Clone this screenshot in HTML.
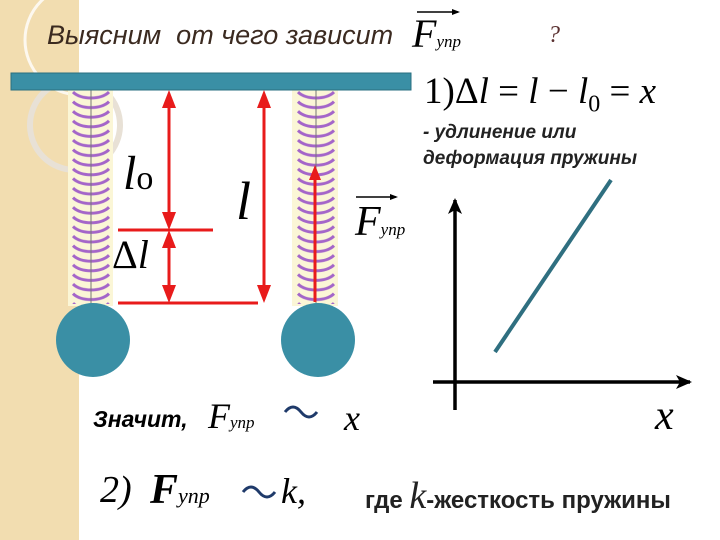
<!DOCTYPE html>
<html><head><meta charset="utf-8"><style>
html,body{margin:0;padding:0;background:#fff}
.w{position:relative;width:720px;height:540px;overflow:hidden;font-family:"Liberation Sans",sans-serif}
.t{position:absolute;white-space:nowrap}
.m{font-family:"Liberation Serif",serif;font-style:italic}
</style></head><body><div class="w">
<svg width="720" height="540" style="position:absolute;left:0;top:0">
<defs>
<pattern id="coil1" x="69" y="90" width="44" height="9.6" patternUnits="userSpaceOnUse">
<path d="M4,2 C12,10 32,10 40,2" stroke="#9a55c8" stroke-width="3" fill="none"/>
</pattern>
<pattern id="coil2" x="294" y="90" width="44" height="9.6" patternUnits="userSpaceOnUse">
<path d="M4,2 C12,10 32,10 40,2" stroke="#9a55c8" stroke-width="3" fill="none"/>
</pattern>
<marker id="ab" markerWidth="16" markerHeight="14" refX="14" refY="7" orient="auto" markerUnits="userSpaceOnUse"><path d="M0,0 L16,7 L0,14 L4,7 z" fill="#000"/></marker>
</defs>
<rect x="0" y="0" width="79" height="540" fill="#f2ddb0"/>
<circle cx="80" cy="40" r="55" fill="none" stroke="#fff" stroke-width="3" opacity="0.8"/>
<circle cx="75" cy="125" r="45" fill="none" stroke="#e8e1d6" stroke-width="6"/>
<rect x="68" y="88" width="45" height="218" fill="#fbf6d6"/>
<rect x="292" y="88" width="46" height="218" fill="#fbf6d6"/>
<rect x="69" y="90" width="44" height="214" fill="url(#coil1)" opacity="0.9"/>
<rect x="294" y="90" width="44" height="214" fill="url(#coil2)" opacity="0.9"/>
<line x1="91" y1="90" x2="91" y2="304" stroke="#777" stroke-width="1"/>
<line x1="316" y1="90" x2="316" y2="304" stroke="#777" stroke-width="1"/>
<rect x="11" y="73" width="400" height="17" fill="#3a8fa5" stroke="#2a6f80" stroke-width="1"/>
<ellipse cx="93" cy="340" rx="37" ry="37" fill="#3a8fa5"/>
<ellipse cx="318" cy="340" rx="37" ry="37" fill="#3a8fa5"/>
<g stroke="#e81b1b" stroke-width="3">
<line x1="118" y1="230" x2="213" y2="230"/>
<line x1="118" y1="303" x2="258" y2="303"/>
<line x1="169" y1="100" x2="169" y2="222"/>
<line x1="169" y1="238" x2="169" y2="295"/>
<line x1="264" y1="100" x2="264" y2="292"/>
<line x1="315" y1="302" x2="315" y2="175"/>
</g>
<g fill="#e81b1b">
<path d="M169,90 L162,108 L176,108z"/><path d="M169,230 L162,212 L176,212z"/>
<path d="M169,230 L162,248 L176,248z"/><path d="M169,303 L162,285 L176,285z"/>
<path d="M264,90 L257,108 L271,108z"/><path d="M264,303 L257,285 L271,285z"/>
<path d="M315,165 L309,180 L321,180z"/>
</g>
<line x1="455" y1="410" x2="455" y2="200" stroke="#000" stroke-width="3.5" marker-end="url(#ab)"/>
<line x1="433" y1="382" x2="690" y2="382" stroke="#000" stroke-width="3.5" marker-end="url(#ab)"/>
<line x1="495" y1="352" x2="611" y2="180" stroke="#2f6f80" stroke-width="4"/>
<line x1="417" y1="12" x2="458" y2="12" stroke="#000" stroke-width="1.5"/><path d="M460,12 L452,9 L452,15z"/>
<line x1="356" y1="197" x2="396" y2="197" stroke="#000" stroke-width="1.5"/><path d="M398,197 L390,194 L390,200z"/>
<path d="M285,412 q8,-10 16,0 t16,0" stroke="#1f3a6a" stroke-width="3" fill="none"/>
<path d="M243,492 q8,-10 16,0 t16,0" stroke="#1f3a6a" stroke-width="3" fill="none"/>
</svg>
<div class="t" style="left:47px;top:20px;font-size:27px;font-style:italic;color:#3b2a20">Выясним&nbsp; от чего зависит</div>
<div class="t m" style="left:412px;top:10px;font-size:40px;font-style:italic">F<span style="font-size:17px">упр</span></div>
<div class="t m" style="left:548px;top:22px;font-size:24px;color:#5a3030">?</div>
<div class="t" style="left:424px;top:70px;font-size:37px;font-family:'Liberation Serif',serif">1)Δ<i>l</i> = <i>l</i> − <i>l</i><sub style="font-size:24px">0</sub> = <i>x</i></div>
<div class="t" style="left:423px;top:120px;font-size:19px;font-style:italic;font-weight:bold;line-height:26px;color:#222">- удлинение или<br>деформация пружины</div>
<div class="t m" style="left:123px;top:146px;font-size:48px">l<span style="font-style:normal;font-size:34px">o</span></div>
<div class="t" style="left:112px;top:231px;font-size:40px;font-family:'Liberation Serif',serif">Δ<i>l</i></div>
<div class="t m" style="left:236px;top:170px;font-size:54px">l</div>
<div class="t m" style="left:355px;top:198px;font-size:42px">F<span style="font-size:17px">упр</span></div>
<div class="t" style="left:93px;top:406px;font-size:23px;font-weight:bold;font-style:italic">Значит,</div>
<div class="t m" style="left:208px;top:395px;font-size:36px;font-style:italic">F<span style="font-size:17px">упр</span></div>
<div class="t m" style="left:344px;top:397px;font-size:36px">x</div>
<div class="t m" style="left:655px;top:392px;font-size:42px">x</div>
<div class="t m" style="left:100px;top:468px;font-size:38px">2)</div>
<div class="t m" style="left:150px;top:466px;font-size:42px;font-weight:bold">F<span style="font-size:22px;font-weight:normal">упр</span></div>
<div class="t m" style="left:281px;top:470px;font-size:36px">k,</div>
<div class="t" style="left:365px;top:474px;font-size:24px;font-weight:bold;color:#222">где <span class="m" style="font-size:38px;font-weight:normal">k</span>-жесткость пружины</div>
</div></body></html>
